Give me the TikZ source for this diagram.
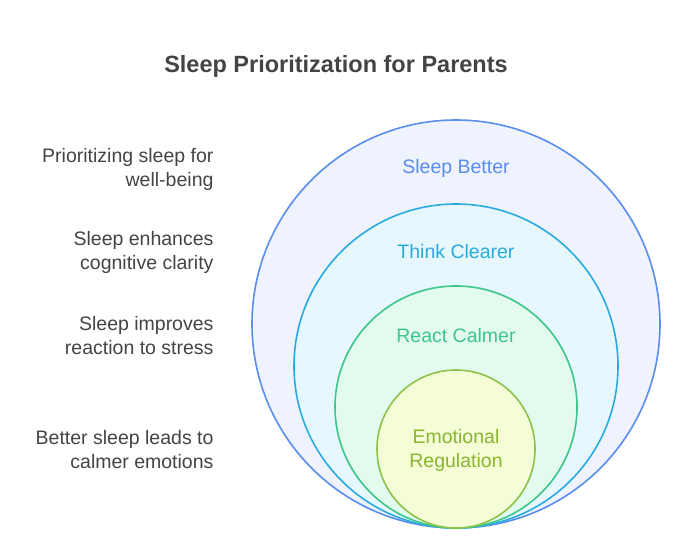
\documentclass[tikz,border=0pt]{standalone}
\usepackage{fontspec}
\setmainfont{Liberation Sans}
\definecolor{b1}{HTML}{5A8DEE}\definecolor{f1}{HTML}{EEF3FD}
\definecolor{b2}{HTML}{2AABDF}\definecolor{f2}{HTML}{E6F7FD}
\definecolor{b3}{HTML}{3CC68B}\definecolor{f3}{HTML}{E3FBEF}
\definecolor{b4}{HTML}{8CC34A}\definecolor{f4}{HTML}{F4FDD6}
\definecolor{t4}{HTML}{8AB62F}
\definecolor{txt}{HTML}{444444}
\begin{document}
\begin{tikzpicture}[x=1pt,y=-1pt,
  ring/.style={line width=1.6pt},
  lab/.style={font=\fontsize{19.5}{24}\selectfont, align=center},
  side/.style={font=\fontsize{19.5}{24}\selectfont, align=right, anchor=east, text=txt}]
\useasboundingbox (0,0) rectangle (684,538);
\fill[white] (0,0) rectangle (684,538);
\node[font=\bfseries\fontsize{23.5}{28}\selectfont, text=txt] (title) at (336,66) {Sleep Prioritization for Parents};
\draw[ring,draw=b1,fill=f1] (456,324) circle (204);
\draw[ring,draw=b2,fill=f2] (456,366) circle (162);
\draw[ring,draw=b3,fill=f3] (456,407) circle (121);
\draw[ring,draw=b4,fill=f4] (456,449) circle (79);
\node[lab,text=b1] (c1) at (456,168) {Sleep Better};
\node[lab,text=b2] (c2) at (456,252) {Think Clearer};
\node[lab,text=b3] (c3) at (456,336) {React Calmer};
\node[lab,text=t4] (c4) at (456,450) {Emotional\\Regulation};
\node[side] (s1) at (217,169) {Prioritizing sleep for\\well-being};
\node[side] (s2) at (217,252) {Sleep enhances\\cognitive clarity};
\node[side] (s3) at (217,336) {Sleep improves\\reaction to stress};
\node[side] (s4) at (217,450) {Better sleep leads to\\calmer emotions};
\end{tikzpicture}
\end{document}
